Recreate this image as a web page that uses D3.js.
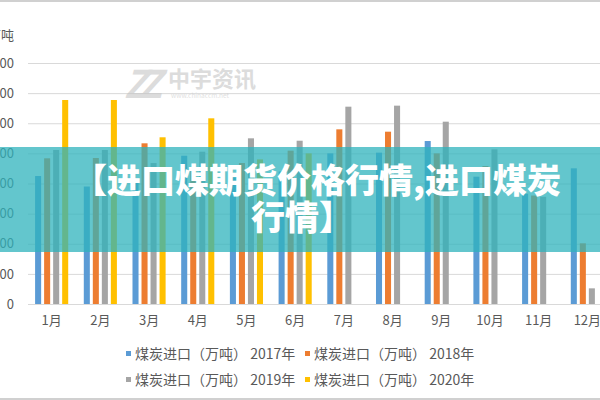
<!DOCTYPE html>
<html>
<head>
<meta charset="utf-8">
<script src="https://cdn.jsdelivr.net/npm/d3@7"></script>
<style>
  body { margin: 0; background: #fff; }
  text { font-family: "Noto Sans CJK SC", "Liberation Sans", sans-serif; }
</style>
</head>
<body>
<div id="viz"></div>
<script>
const width = 600;
const height = 400;

// data (万吨)
const months = ["1月", "2月", "3月", "4月", "5月", "6月", "7月", "8月", "9月", "10月", "11月", "12月"];
const seriesNames = ["煤炭进口（万吨） 2017年", "煤炭进口（万吨） 2018年", "煤炭进口（万吨） 2019年", "煤炭进口（万吨） 2020年"];
const y2017 = [2124, 1950, 2058, 2461, 2100, 2200, 2500, 2512, 2705, 2113, 1830, 2252];
const y2018 = [2418, 2423, 2667, 2250, 2340, 2545, 2899, 2860, 2500, 2290, 1800, 1007];
const y2019 = [2556, 2556, 2340, 2528, 2750, 2710, 3275, 3292, 3026, 2567, 1780, 260];
const y2020 = [3386, 3386, 2767, 3082, 2400, 2500, null, null, null, null, null, null];
const yTicks = [0, 500, 1000, 1500, 2000, 2500, 3000, 3500, 4000];
const colors = ["#5b9bd5", "#ed7d31", "#a5a5a5", "#ffc000"];

const allSeries = [y2017, y2018, y2019, y2020];

const svg = d3.select("#viz")
    .append("svg")
    .attr("width", width)
    .attr("height", height);

const x0 = d3.scaleBand()
    .domain(months)
    .range([27.3, 611.7])
    .paddingInner(0.32)
    .paddingOuter(0.16);

const x1 = d3.scaleBand()
    .domain(d3.range(4))
    .range([0, x0.bandwidth()])
    .paddingInner(0.33);

const y = d3.scaleLinear()
    .domain([0, 4000])
    .range([304, 63]);

// gridlines + y labels (left part is cut off like the reference)
const yAxis = d3.axisLeft(y)
    .tickValues(yTicks)
    .tickSize(-(width - 28))
    .tickPadding(14)
    .tickFormat(d3.format("d"));

const yAxisG = svg.append("g")
    .attr("transform", "translate(28,0)")
    .call(yAxis);
yAxisG.select(".domain").remove();
yAxisG.selectAll(".tick line").attr("stroke", "#d9d9d9");
yAxisG.selectAll(".tick text")
    .attr("fill", "#595959")
    .attr("font-size", 13);

svg.append("text")
    .attr("x", 14)
    .attr("y", 40)
    .attr("text-anchor", "end")
    .attr("fill", "#595959")
    .attr("font-size", 13)
    .text("万吨");

// watermark
const wm = svg.append("g").attr("opacity", 0.55);
wm.append("text")
    .attr("x", 124)
    .attr("y", 98)
    .attr("font-size", 38)
    .attr("font-weight", "bold")
    .attr("font-style", "italic")
    .attr("fill", "#c0c0c0")
    .attr("font-family", "Liberation Sans")
    .attr("letter-spacing", -8)
    .text("ZZ");
wm.append("text")
    .attr("x", 168)
    .attr("y", 87)
    .attr("font-size", 22)
    .attr("font-weight", "bold")
    .attr("fill", "#c0c0c0")
    .text("中宇资讯");
wm.append("text")
    .attr("x", 171)
    .attr("y", 98)
    .attr("font-size", 6.5)
    .attr("fill", "#c8c8c8")
    .attr("font-family", "Liberation Sans")
    .text("www.chinaccm.net");

// bars
const groups = svg.append("g")
    .selectAll("g")
    .data(months)
    .join("g")
    .attr("transform", d => `translate(${x0(d)},0)`);

groups.selectAll("rect")
    .data((m, i) => allSeries.map((s, k) => ({ k: k, v: s[i] })).filter(d => d.v != null))
    .join("rect")
    .attr("x", d => x1(d.k))
    .attr("width", x1.bandwidth())
    .attr("y", d => y(d.v))
    .attr("height", d => y(0) - y(d.v))
    .attr("fill", d => colors[d.k]);

// x labels
const xAxis = d3.axisBottom(x0).tickSize(0).tickPadding(12);
const xAxisG = svg.append("g")
    .attr("transform", "translate(0,304)")
    .call(xAxis);
xAxisG.select(".domain").remove();
xAxisG.selectAll(".tick text")
    .attr("fill", "#595959")
    .attr("font-size", 13);

// legend, two rows
const legend = svg.append("g");
const legItems = legend.selectAll("g")
    .data(seriesNames)
    .join("g")
    .attr("transform", (d, i) => `translate(${i % 2 === 0 ? 126 : 305},${i < 2 ? 354 : 380})`);
legItems.append("rect")
    .attr("x", 0)
    .attr("y", -3)
    .attr("width", 5)
    .attr("height", 5)
    .attr("fill", (d, i) => colors[i]);
legItems.append("text")
    .attr("x", 9)
    .attr("y", 0)
    .attr("dy", "0.35em")
    .attr("font-size", 14)
    .attr("fill", "#595959")
    .text(d => d);

// banner overlay
svg.append("rect")
    .attr("x", 0)
    .attr("y", 147)
    .attr("width", width)
    .attr("height", 105)
    .attr("fill", "#2fb3bc")
    .attr("opacity", 0.75);

const bannerText = ["【进口煤期货价格行情,进口煤炭", "行情】"];
svg.append("g")
    .selectAll("text")
    .data(bannerText)
    .join("text")
    .attr("x", (d, i) => i === 0 ? 317 : 302)
    .attr("y", (d, i) => 181 + i * 37)
    .attr("dy", "0.36em")
    .attr("text-anchor", "middle")
    .attr("font-size", 34)
    .attr("font-weight", 900)
    .attr("fill", "#fff")
    .text(d => d);

// frame lines
svg.append("line").attr("x1", 0).attr("x2", width).attr("y1", 1).attr("y2", 1)
    .attr("stroke", "#d0d0d0").attr("stroke-width", 2);
svg.append("line").attr("x1", 0).attr("x2", width).attr("y1", 399).attr("y2", 399)
    .attr("stroke", "#d0d0d0").attr("stroke-width", 2);
</script>
</body>
</html>
